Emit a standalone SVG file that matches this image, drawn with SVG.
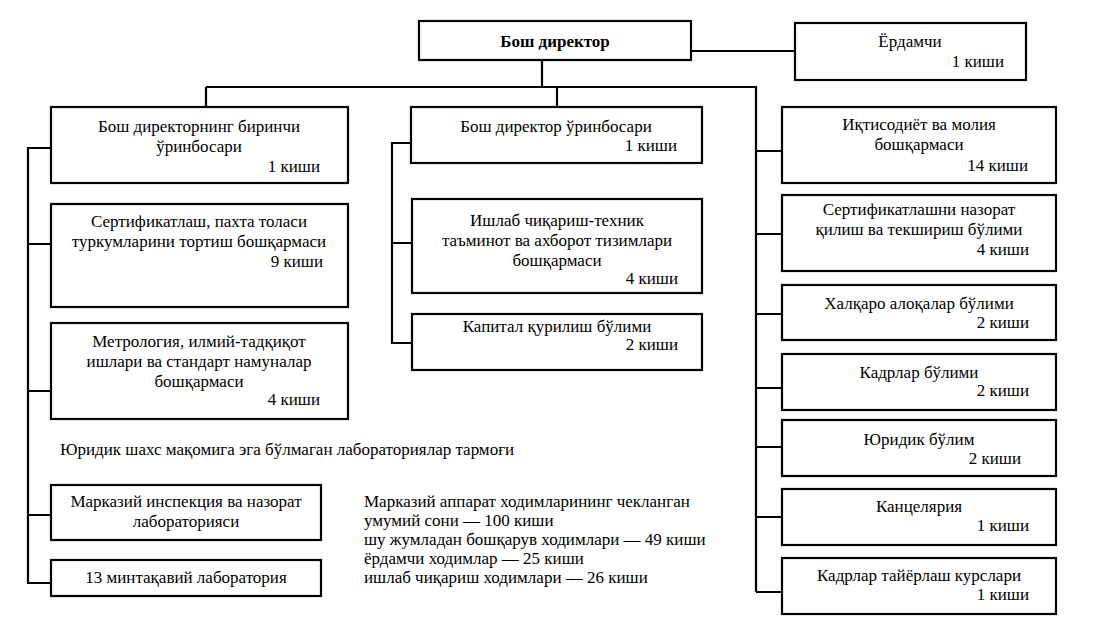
<svg xmlns="http://www.w3.org/2000/svg" width="1093" height="643" viewBox="0 0 1093 643">
<style>
rect.n{fill:#fff;stroke:#000;stroke-width:2.2}
text{font-family:'Liberation Serif','Times New Roman',serif;font-size:17px;fill:#000}
.c{text-anchor:middle}
.r{text-anchor:end}
.b{font-weight:bold}
#connectors path{fill:none;stroke:#000;stroke-width:2.2}
</style>
<rect width="1093" height="643" fill="#fff"/>
<g id="connectors">
<path d="M691 51H795"/>
<path d="M542 60V87"/>
<path d="M206 87H756V592"/>
<path d="M206 87V107"/>
<path d="M557 87V107"/>
<path d="M756 151H782M756 234H782M756 314H782M756 388H782M756 447H782M756 517H782M756 592H782"/>
<path d="M51 148H28V583H51M28 244H51M28 391H51M28 515H51"/>
<path d="M411 143H392V343H412M392 243H412"/>
</g>
<g id="n-director"><rect class="n" x="419" y="21" width="272" height="39"/><text class="c b" x="555" y="47">Бош директор</text></g>
<g id="n-assistant"><rect class="n" x="795" y="23" width="231" height="57"/><text class="c" x="910" y="47">Ёрдамчи</text><text class="r" x="1004" y="67">1 киши</text></g>
<g id="n-first-deputy"><rect class="n" x="51" y="107" width="297" height="76"/><text class="c" x="199" y="132">Бош директорнинг биринчи</text><text class="c" x="199" y="152">ўринбосари</text><text class="r" x="320" y="172">1 киши</text></g>
<g id="n-cert"><rect class="n" x="51" y="204" width="297" height="103"/><text class="c" x="199" y="227">Сертификатлаш, пахта толаси</text><text class="c" x="199" y="247">туркумларини тортиш бошқармаси</text><text class="r" x="323" y="267">9 киши</text></g>
<g id="n-metrology"><rect class="n" x="51" y="323" width="297" height="96"/><text class="c" x="199" y="347">Метрология, илмий-тадқиқот</text><text class="c" x="199" y="367">ишлари ва стандарт намуналар</text><text class="c" x="199" y="387">бошқармаси</text><text class="r" x="320" y="405">4 киши</text></g>
<text x="60" y="455">Юридик шахс мақомига эга бўлмаган лабораториялар тармоғи</text>
<g id="n-central-lab"><rect class="n" x="51" y="485" width="270" height="55"/><text class="c" x="186" y="507">Марказий инспекция ва назорат</text><text class="c" x="186" y="527">лабораторияси</text></g>
<g id="n-regional-labs"><rect class="n" x="51" y="560" width="270" height="36"/><text class="c" x="186" y="583">13 минтақавий лаборатория</text></g>
<g id="n-deputy"><rect class="n" x="411" y="107" width="291" height="56"/><text class="c" x="556" y="132">Бош директор ўринбосари</text><text class="r" x="677" y="151">1 киши</text></g>
<g id="n-production"><rect class="n" x="412" y="199" width="290" height="94"/><text class="c" x="557" y="226">Ишлаб чиқариш-техник</text><text class="c" x="557" y="246">таъминот ва ахборот тизимлари</text><text class="c" x="557" y="266">бошқармаси</text><text class="r" x="678" y="284">4 киши</text></g>
<g id="n-capital"><rect class="n" x="412" y="314" width="290" height="56"/><text class="c" x="557" y="332">Капитал қурилиш бўлими</text><text class="r" x="678" y="350">2 киши</text></g>
<g id="n-summary"><text x="364" y="507">Марказий аппарат ходимларининг чекланган</text><text x="364" y="526">умумий сони — 100 киши</text><text x="364" y="545">шу жумладан бошқарув ходимлари — 49 киши</text><text x="364" y="564">ёрдамчи ходимлар — 25 киши</text><text x="364" y="583">ишлаб чиқариш ходимлари — 26 киши</text></g>
<g id="n-economy"><rect class="n" x="782" y="107" width="274" height="76"/><text class="c" x="919" y="130">Иқтисодиёт ва молия</text><text class="c" x="919" y="150">бошқармаси</text><text class="r" x="1028" y="171">14 киши</text></g>
<g id="n-cert-control"><rect class="n" x="782" y="195" width="274" height="76"/><text class="c" x="919" y="215">Сертификатлашни назорат</text><text class="c" x="919" y="235">қилиш ва текшириш бўлими</text><text class="r" x="1029" y="255">4 киши</text></g>
<g id="n-intl"><rect class="n" x="782" y="285" width="274" height="55"/><text class="c" x="919" y="309">Халқаро алоқалар бўлими</text><text class="r" x="1029" y="328">2 киши</text></g>
<g id="n-hr"><rect class="n" x="782" y="354" width="274" height="56"/><text class="c" x="919" y="378">Кадрлар бўлими</text><text class="r" x="1029" y="396">2 киши</text></g>
<g id="n-legal"><rect class="n" x="782" y="420" width="274" height="56"/><text class="c" x="919" y="445">Юридик бўлим</text><text class="r" x="1021" y="464">2 киши</text></g>
<g id="n-chancery"><rect class="n" x="782" y="489" width="274" height="56"/><text class="c" x="919" y="512">Канцелярия</text><text class="r" x="1029" y="531">1 киши</text></g>
<g id="n-training"><rect class="n" x="782" y="558" width="274" height="56"/><text class="c" x="919" y="581">Кадрлар тайёрлаш курслари</text><text class="r" x="1029" y="600">1 киши</text></g>
</svg>
